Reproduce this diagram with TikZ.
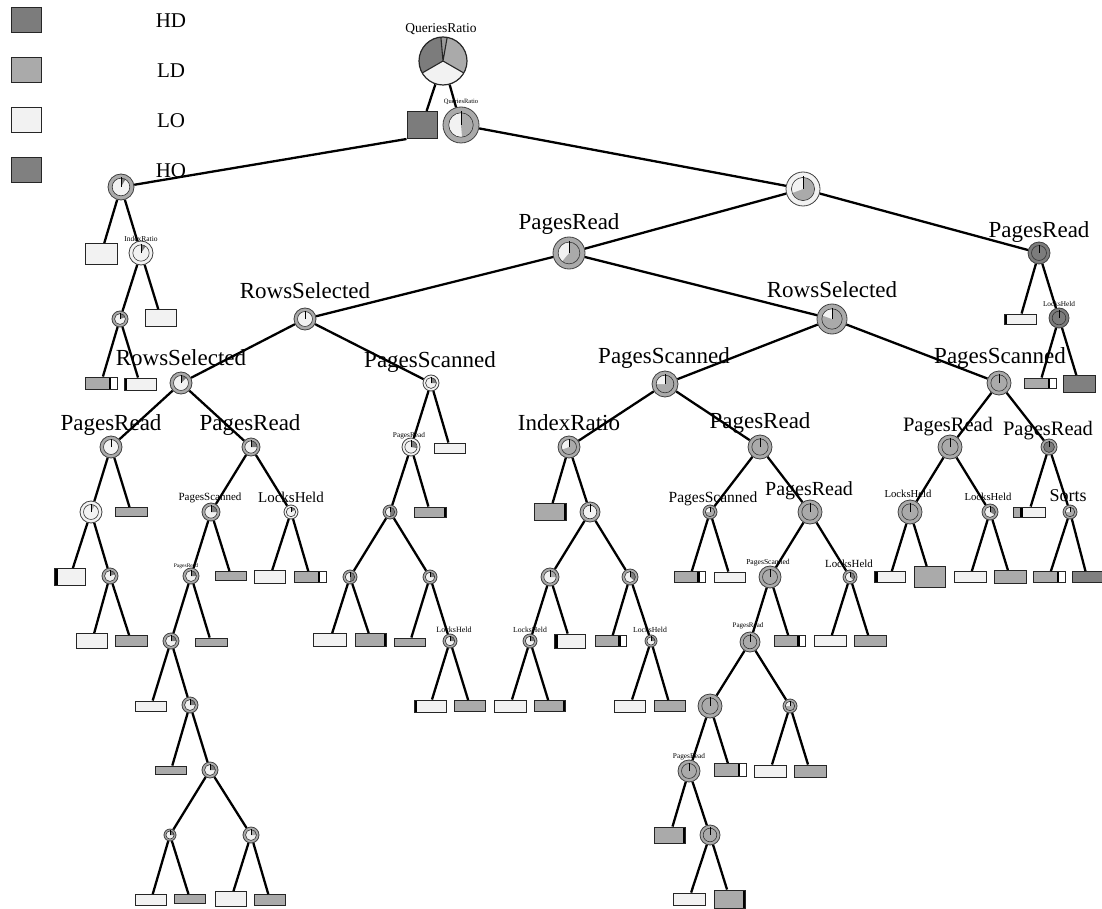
\documentclass[tikz,border=0pt]{standalone}
\usepackage{fontspec}
\setmainfont{Liberation Serif}
\newcommand\lblfs[1]{\fontsize{#1}{#1}\selectfont}
\definecolor{HDc}{HTML}{7C7C7C}
\definecolor{LDc}{HTML}{AAAAAA}
\definecolor{LOc}{HTML}{F2F2F2}
\definecolor{HOc}{HTML}{808080}
\begin{document}
\begin{tikzpicture}[x=1pt,y=-1pt,
  conn/.style={line width=2.3pt, black},
  lab/.style={anchor=base, inner sep=0pt, font=\lblfs{#1}},
  legbox/.style={rectangle, draw=black!85, line width=1pt, fill=#1, minimum width=30pt, minimum height=25pt, inner sep=0pt},
  pn/.style n args={5}{circle, inner sep=0pt, minimum size=#1pt, fill=#2, draw=black!75, line width=0.8pt,
    path picture={
      \fill[#3] (path picture bounding box.center) circle[radius=0.34*#1pt];
      \fill[#4] (path picture bounding box.center) -- ++(90:{0.34*#1pt}) arc[start angle=90, end angle=#5, radius=0.34*#1pt] -- cycle;
      \draw[black!80, line width=0.6pt] (path picture bounding box.center) circle[radius=0.34*#1pt];
      \draw[black, line width=1pt] (path picture bounding box.center) -- ++(90:{0.38*#1pt});
    }},
  leaf/.style n args={3}{rectangle, draw=black!85, line width=0.9pt, fill=#3, minimum width=#1pt, minimum height=#2pt, inner sep=0pt},
  endw/.style={path picture={
      \fill[white] ([xshift=-6pt]path picture bounding box.north east) rectangle (path picture bounding box.south east);
      \fill[black] ([xshift=-8.5pt]path picture bounding box.north east) rectangle ([xshift=-6pt]path picture bounding box.south east);}},
  barl/.style={path picture={
      \fill[black] (path picture bounding box.north west) rectangle ([xshift=3pt]path picture bounding box.south west);}},
  barr/.style={path picture={
      \fill[black] ([xshift=-2.5pt]path picture bounding box.north east) rectangle (path picture bounding box.south east);}},
  begd/.style={path picture={
      \fill[LDc] (path picture bounding box.north west) rectangle ([xshift=7pt]path picture bounding box.south west);
      \fill[black] ([xshift=7pt]path picture bounding box.north west) rectangle ([xshift=9.5pt]path picture bounding box.south west);}}
]
\useasboundingbox[fill=white] (0,0) rectangle (1102,909);

% legend
\node[legbox=HDc] (g1) at (26,20) {};
\node[legbox=LDc] (g2) at (26,70) {};
\node[legbox=LOc] (g3) at (26,120) {};
\node[legbox=HOc] (g4) at (26,170) {};
\node[lab=21] (gt1) at (171,28) {HD};
\node[lab=21] (gt2) at (171,78) {LD};
\node[lab=21] (gt3) at (171,128) {LO};
\node[lab=21] (gt4) at (171,178) {HO};

% root
\node[circle, draw=black!85, line width=1.2pt, minimum size=48pt, inner sep=0pt,
  path picture={
    \fill[HDc] (path picture bounding box.center) -- ++(95:30pt) arc[start angle=95,end angle=210,radius=30pt] -- cycle;
    \fill[LOc] (path picture bounding box.center) -- ++(210:30pt) arc[start angle=210,end angle=330,radius=30pt] -- cycle;
    \fill[LDc] (path picture bounding box.center) -- ++(-30:30pt) arc[start angle=-30,end angle=80,radius=30pt] -- cycle;
    \fill[black!40] (path picture bounding box.center) -- ++(80:30pt) arc[start angle=80,end angle=95,radius=30pt] -- cycle;
    \draw[black!85, line width=1.1pt] (path picture bounding box.center) -- ++(95:30pt)
      (path picture bounding box.center) -- ++(210:30pt)
      (path picture bounding box.center) -- ++(330:30pt)
      (path picture bounding box.center) -- ++(80:30pt);
  }] (root) at (443,61) {};
\node[rectangle, draw=black!85, line width=1pt, fill=HDc, minimum width=30pt, minimum height=27pt, inner sep=0pt] (sq) at (422,125) {};
\node[pn={36}{LDc}{LOc}{LDc}{-85}] (q1) at (461,125) {};

% inner nodes
\node[pn={26}{LDc}{LOc}{HDc}{60}] (nA) at (121,187) {};
\node[pn={24}{LOc}{LOc}{HDc}{55}] (nA2) at (141,253) {};
\node[pn={16}{LDc}{LOc}{HDc}{20}] (nA3) at (120,319) {};
\node[pn={34}{LOc}{LDc}{LOc}{200}] (nB) at (803,189) {};
\node[pn={32}{LDc}{LDc}{LOc}{230}] (nP) at (569,253) {};
\node[pn={22}{HDc}{HDc}{HDc}{90}] (nPR) at (1039,253) {};
\node[pn={22}{LDc}{LOc}{LOc}{90}] (nR1) at (305,319) {};
\node[pn={30}{LDc}{LDc}{LOc}{160}] (nR2) at (832,319) {};
\node[pn={22}{LDc}{LOc}{HDc}{45}] (nR3) at (181,383) {};
\node[pn={16}{LOc}{LOc}{HDc}{0}] (nS1) at (431,383) {};
\node[pn={26}{LDc}{LDc}{LOc}{180}] (nS2) at (665,384) {};
\node[pn={24}{LDc}{LDc}{LDc}{90}] (nS3) at (999,383) {};
\node[pn={20}{HDc}{HDc}{HDc}{90}] (nL1) at (1059,318) {};
\node[pn={22}{LDc}{LOc}{LOc}{90}] (nPa) at (111,447) {};
\node[pn={18}{LDc}{LOc}{HDc}{0}] (nPb) at (251,447) {};
\node[pn={18}{LOc}{LOc}{HDc}{-10}] (nPc) at (411,447) {};
\node[pn={22}{LDc}{LDc}{LOc}{200}] (nI) at (569,447) {};
\node[pn={24}{LDc}{LDc}{LDc}{90}] (nPd) at (760,447) {};
\node[pn={24}{LDc}{LDc}{LDc}{90}] (nPe) at (950,447) {};
\node[pn={16}{LDc}{HDc}{HDc}{90}] (nPf) at (1049,447) {};
\node[pn={22}{LOc}{LOc}{LDc}{60}] (n91) at (91,512) {};
\node[pn={18}{LDc}{LOc}{HDc}{0}] (n211) at (211,512) {};
\node[pn={14}{LOc}{LOc}{HDc}{30}] (n291) at (291,512) {};
\node[pn={14}{LDc}{LOc}{HDc}{-90}] (n390) at (390,512) {};
\node[pn={20}{LDc}{LOc}{LOc}{90}] (n590) at (590,512) {};
\node[pn={14}{LDc}{LDc}{LOc}{180}] (n710) at (710,512) {};
\node[pn={24}{LDc}{LDc}{LDc}{90}] (n810) at (810,512) {};
\node[pn={24}{LDc}{LDc}{LDc}{90}] (n910) at (910,512) {};
\node[pn={16}{LDc}{LOc}{HDc}{-30}] (n990) at (990,512) {};
\node[pn={14}{LDc}{LDc}{LOc}{180}] (n1070) at (1070,512) {};
\node[pn={16}{LDc}{LOc}{HDc}{20}] (n110) at (110,576) {};
\node[pn={16}{LDc}{LOc}{HDc}{0}] (n191) at (191,576) {};
\node[pn={14}{LDc}{LOc}{HDc}{-90}] (n350) at (350,577) {};
\node[pn={14}{LDc}{LOc}{HDc}{0}] (n430) at (430,577) {};
\node[pn={18}{LDc}{LOc}{LDc}{0}] (n550) at (550,577) {};
\node[pn={16}{LDc}{LOc}{HDc}{-40}] (n630) at (630,577) {};
\node[pn={22}{LDc}{LDc}{LDc}{90}] (n770) at (770,577) {};
\node[pn={14}{LDc}{LOc}{HDc}{-40}] (n850) at (850,577) {};
\node[pn={16}{LDc}{LOc}{HDc}{0}] (n171) at (171,641) {};
\node[pn={14}{LDc}{LOc}{HDc}{0}] (n450) at (450,641) {};
\node[pn={14}{LDc}{LOc}{HDc}{0}] (n530) at (530,641) {};
\node[pn={12}{LDc}{LOc}{HDc}{0}] (n651) at (651,641) {};
\node[pn={20}{LDc}{LDc}{LDc}{90}] (n750) at (750,642) {};
\node[pn={16}{LDc}{LOc}{HDc}{0}] (n190) at (190,705) {};
\node[pn={24}{LDc}{LDc}{LDc}{90}] (n710b) at (710,706) {};
\node[pn={14}{LDc}{LDc}{LOc}{180}] (n790) at (790,706) {};
\node[pn={16}{LDc}{LOc}{HDc}{0}] (n210) at (210,770) {};
\node[pn={22}{LDc}{LDc}{LDc}{90}] (n689) at (689,771) {};
\node[pn={12}{LDc}{LOc}{HDc}{0}] (n170) at (170,835) {};
\node[pn={16}{LDc}{LOc}{LDc}{0}] (n251) at (251,835) {};
\node[pn={20}{LDc}{LDc}{LDc}{90}] (n710c) at (710,835) {};

% leaves
\node[leaf={32}{21}{LOc}] (lA1) at (101,254) {};
\node[leaf={31}{17}{LOc}] (lA2) at (161,318) {};
\node[leaf={32}{12}{LDc}, endw] (lA3) at (101,383) {};
\node[leaf={32}{12}{LOc}, barl] (lA4) at (140,384) {};
\node[leaf={32}{10}{LOc}, barl] (lR1) at (1020,319) {};
\node[leaf={32}{10}{LDc}, endw] (lR2) at (1040,383) {};
\node[leaf={32}{17}{HOc}] (lR3) at (1079,384) {};
\node[leaf={31}{10}{LOc}] (l450) at (450,448) {};
\node[leaf={32}{9}{LDc}] (l131) at (131,512) {};
\node[leaf={31}{9}{LDc}] (l231) at (231,576) {};
\node[leaf={31}{13}{LOc}] (l270) at (270,577) {};
\node[leaf={32}{11}{LDc}, endw] (l310) at (310,577) {};
\node[leaf={32}{10}{LDc}, barr] (l430) at (430,512) {};
\node[leaf={32}{17}{LDc}, barr] (l550) at (550,512) {};
\node[leaf={32}{10}{LOc}, begd] (l1029) at (1029,512) {};
\node[leaf={31}{17}{LOc}, barl] (l70) at (70,577) {};
\node[leaf={31}{15}{LOc}] (l92) at (92,641) {};
\node[leaf={32}{11}{LDc}] (l131b) at (131,641) {};
\node[leaf={32}{8}{LDc}] (l211) at (211,642) {};
\node[leaf={31}{10}{LOc}] (l151) at (151,706) {};
\node[leaf={31}{8}{LDc}] (l171) at (171,770) {};
\node[leaf={31}{11}{LOc}] (l151b) at (151,900) {};
\node[leaf={31}{9}{LDc}] (l190) at (190,899) {};
\node[leaf={31}{15}{LOc}] (l231b) at (231,899) {};
\node[leaf={31}{11}{LDc}] (l270b) at (270,900) {};
\node[leaf={33}{13}{LOc}] (l330) at (330,640) {};
\node[leaf={31}{13}{LDc}, barr] (l371) at (371,640) {};
\node[leaf={31}{8}{LDc}] (l410) at (410,642) {};
\node[leaf={32}{12}{LOc}, barl] (l430b) at (430,706) {};
\node[leaf={31}{11}{LDc}] (l470) at (470,706) {};
\node[leaf={31}{14}{LOc}, barl] (l570) at (570,641) {};
\node[leaf={31}{11}{LDc}, endw] (l611) at (611,641) {};
\node[leaf={32}{12}{LOc}] (l510) at (510,706) {};
\node[leaf={31}{11}{LDc}, barr] (l550b) at (550,706) {};
\node[leaf={31}{12}{LOc}] (l630) at (630,706) {};
\node[leaf={31}{11}{LDc}] (l670) at (670,706) {};
\node[leaf={31}{11}{LDc}, endw] (l690) at (690,577) {};
\node[leaf={31}{10}{LOc}] (l730) at (730,577) {};
\node[leaf={31}{11}{LDc}, endw] (l790) at (790,641) {};
\node[leaf={32}{11}{LOc}] (l830) at (830,641) {};
\node[leaf={32}{11}{LDc}] (l870) at (870,641) {};
\node[leaf={32}{13}{LDc}, endw] (l730b) at (730,770) {};
\node[leaf={32}{12}{LOc}] (l770) at (770,771) {};
\node[leaf={32}{12}{LDc}] (l810) at (810,771) {};
\node[leaf={31}{16}{LDc}, barr] (l670b) at (670,835) {};
\node[leaf={32}{12}{LOc}] (l689) at (689,899) {};
\node[leaf={31}{18}{LDc}, barr] (l730c) at (730,899) {};
\node[leaf={31}{11}{LOc}, barl] (l890) at (890,577) {};
\node[leaf={31}{21}{LDc}] (l930) at (930,577) {};
\node[leaf={32}{11}{LOc}] (l970) at (970,577) {};
\node[leaf={32}{13}{LDc}] (l1010) at (1010,577) {};
\node[leaf={32}{11}{LDc}, endw] (l1049) at (1049,577) {};
\node[leaf={30}{11}{HOc}] (l1088) at (1087,577) {};

% connectors
\draw[conn] (sq.south west) -- (nA);
\foreach \a/\b in {root/sq, root/q1, q1/nB,
  nA/lA1, nA/nA2, nA2/nA3, nA2/lA2, nA3/lA3, nA3/lA4,
  nB/nP, nB/nPR, nPR/lR1, nPR/nL1, nL1/lR2, nL1/lR3,
  nP/nR1, nP/nR2, nR1/nR3, nR1/nS1, nR3/nPa, nR3/nPb,
  nPa/n91, nPa/l131, n91/l70, n91/n110, n110/l92, n110/l131b,
  nPb/n211, nPb/n291, n211/n191, n211/l231, n191/n171, n191/l211,
  n171/l151, n171/n190, n190/l171, n190/n210, n210/n170, n210/n251,
  n170/l151b, n170/l190, n251/l231b, n251/l270b, n291/l270, n291/l310,
  nS1/nPc, nS1/l450, nPc/n390, nPc/l430, n390/n350, n390/n430,
  n350/l330, n350/l371, n430/l410, n430/n450, n450/l430b, n450/l470,
  nR2/nS2, nR2/nS3, nS2/nI, nS2/nPd, nI/l550, nI/n590,
  n590/n550, n590/n630, n550/n530, n550/l570, n530/l510, n530/l550b,
  n630/l611, n630/n651, n651/l630, n651/l670,
  nPd/n710, nPd/n810, n710/l690, n710/l730, n810/n770, n810/n850,
  n770/n750, n770/l790, n750/n710b, n750/n790, n710b/n689, n710b/l730b,
  n790/l770, n790/l810, n689/l670b, n689/n710c, n710c/l689, n710c/l730c,
  n850/l830, n850/l870,
  nS3/nPe, nS3/nPf, nPe/n910, nPe/n990, n910/l890, n910/l930,
  n990/l970, n990/l1010, nPf/l1029, nPf/n1070, n1070/l1049, n1070/l1088}
  \draw[conn] (\a) -- (\b);

% labels
\node[lab=13.5] (t0) at (441,33) {QueriesRatio};
\node[lab=6.5] (t1) at (461,104) {QueriesRatio};
\node[lab=7.5] (t2) at (141,242) {IndexRatio};
\node[lab=23] (t3) at (569,230) {PagesRead};
\node[lab=23] (t4) at (1039,237) {PagesRead};
\node[lab=23] (t5) at (305,298) {RowsSelected};
\node[lab=23] (t6) at (832,297) {RowsSelected};
\node[lab=23] (t7) at (181,365) {RowsSelected};
\node[lab=23] (t8) at (430,367) {PagesScanned};
\node[lab=23] (t9) at (664,363) {PagesScanned};
\node[lab=23] (t10) at (1000,363) {PagesScanned};
\node[lab=23] (t11) at (111,430) {PagesRead};
\node[lab=23] (t12) at (250,430) {PagesRead};
\node[lab=23] (t13) at (569,430) {IndexRatio};
\node[lab=23] (t14) at (760,428) {PagesRead};
\node[lab=20.5] (t15) at (948,431) {PagesRead};
\node[lab=20.5] (t16) at (1048,435) {PagesRead};
\node[lab=7.3] (t17) at (1059,306) {LocksHeld};
\node[lab=7.3] (t18) at (409,437) {PagesRead};
\node[lab=11] (t19) at (210,500) {PagesScanned};
\node[lab=15] (t20) at (291,502) {LocksHeld};
\node[lab=5.5] (t21) at (186,567) {PagesRead};
\node[lab=8] (t22) at (454,632) {LocksHeld};
\node[lab=7.7] (t23) at (530,632) {LocksHeld};
\node[lab=7.7] (t24) at (650,632) {LocksHeld};
\node[lab=15.5] (t25) at (713,502) {PagesScanned};
\node[lab=20] (t26) at (809,495) {PagesRead};
\node[lab=7.6] (t27) at (768,564) {PagesScanned};
\node[lab=10.9] (t28) at (849,567) {LocksHeld};
\node[lab=7] (t29) at (748,627) {PagesRead};
\node[lab=7.3] (t30) at (689,758) {PagesRead};
\node[lab=10.7] (t31) at (908,497) {LocksHeld};
\node[lab=10.7] (t32) at (988,500) {LocksHeld};
\node[lab=18] (t33) at (1068,501) {Sorts};
\end{tikzpicture}
\end{document}
